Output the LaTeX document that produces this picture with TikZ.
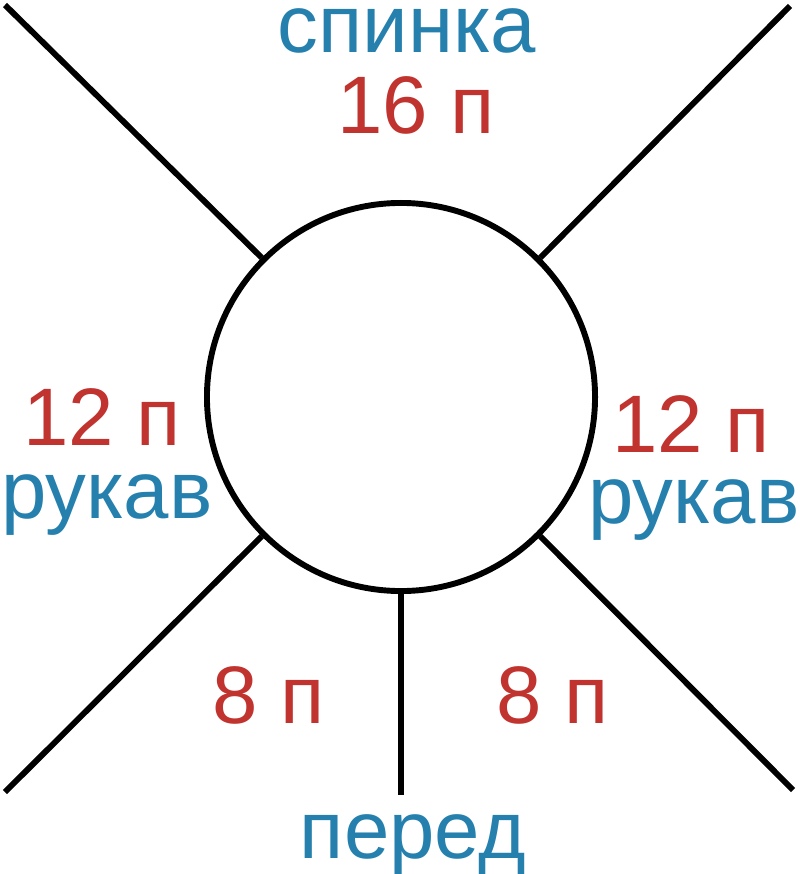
\documentclass[tikz,border=0pt]{standalone}
\usepackage{fontspec}
\setmainfont{Liberation Sans}
\usepackage{tikz}
\definecolor{partblue}{RGB}{37,128,174}
\definecolor{countred}{RGB}{192,51,46}

\begin{document}
\begin{tikzpicture}[x=0.025cm, y=-0.025cm, line width=4.2pt,
  part/.style={anchor=base, inner sep=0pt, text=partblue, font=\fontsize{58}{60}\selectfont},
  count/.style={anchor=base, inner sep=0pt, text=countred, font=\fontsize{58}{60}\selectfont}]
\useasboundingbox (0,0) rectangle (800,874);

\node [circle, draw, minimum size=9.7cm, inner sep=0pt] (neck) at (401,397) {};

\coordinate (tl) at (5,5);
\coordinate (tr) at (790,6);
\coordinate (bl) at (5,792);
\coordinate (br) at (793,790);
\coordinate (fr) at (401,795);

\draw (neck.135) -- (tl);
\draw (neck.45) -- (tr);
\draw (neck.225) -- (bl);
\draw (neck.315) -- (br);
\draw (neck.south) -- (fr);

\node[part] (back) at (407,53) {спинка};
\node[count] (nback) at (416,133) {16 п};
\node[count] (nslvl) at (102,445) {12 п};
\node[part] (slvl) at (107,518) {рукав};
\node[count] (nslvr) at (691,452) {12 п};
\node[part] (slvr) at (694,523) {рукав};
\node[count] (nfrl) at (269,723) {8 п};
\node[count] (nfrr) at (553,723) {8 п};
\node[part] (front) at (413,858) {перед};
\end{tikzpicture}
\end{document}
